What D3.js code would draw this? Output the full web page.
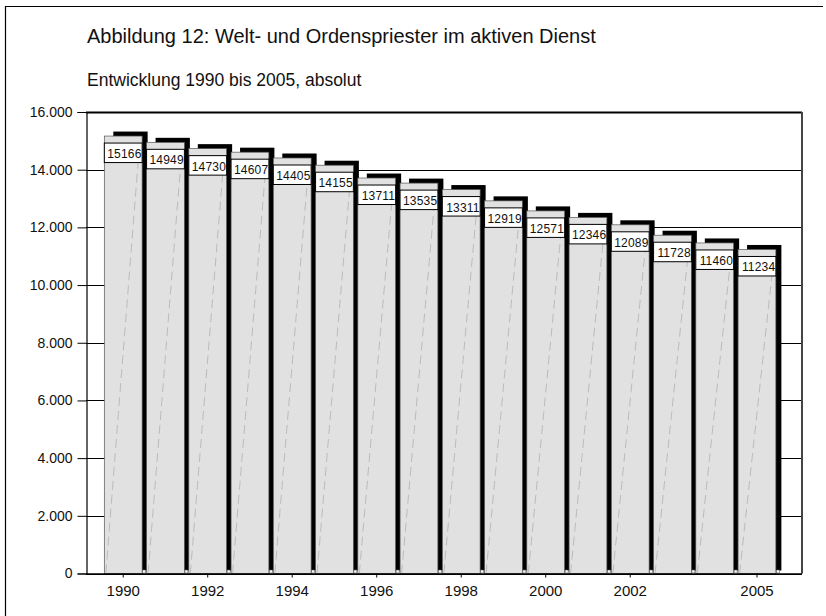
<!DOCTYPE html>
<html>
<head>
<meta charset="utf-8">
<script src="https://cdn.jsdelivr.net/npm/d3@7"></script>
<style>
  body { margin: 0; background: #fff; }
  svg { display: block; font-family: "Liberation Sans", Arial, sans-serif; }
</style>
</head>
<body>
<script>
const svgW = 826;
const svgH = 616;

// Daten
const years = ['1990', '1991', '1992', '1993', '1994', '1995', '1996', '1997',
               '1998', '1999', '2000', '2001', '2002', '2003', '2004', '2005'];
const priests = [15166, 14949, 14730, 14607, 14405, 14155, 13711, 13535,
                 13311, 12919, 12571, 12346, 12089, 11728, 11460, 11234];
const xTickLabels = ['1990', '1992', '1994', '1996', '1998', '2000', '2002', '2005'];
const yTicks = [0, 2000, 4000, 6000, 8000, 10000, 12000, 14000, 16000];

const title = 'Abbildung 12: Welt- und Ordenspriester im aktiven Dienst';
const subtitle = 'Entwicklung 1990 bis 2005, absolut';

const svg = d3.select('body')
              .append('svg')
              .attr('width', svgW)
              .attr('height', svgH);

// Rahmen (nur oben und links sichtbar)
svg.append('path')
   .attr('d', 'M5.5,616 V6.5 H823')
   .attr('fill', 'none')
   .attr('stroke', '#000')
   .attr('stroke-width', 1.2);

svg.append('text')
   .attr('x', 87).attr('y', 43)
   .attr('font-size', 20)
   .attr('fill', '#111')
   .text(title);

svg.append('text')
   .attr('x', 87).attr('y', 86)
   .attr('font-size', 17.5)
   .attr('fill', '#111')
   .text(subtitle);

const plot = { left: 86, right: 802, top: 112, bottom: 573.5 };

const y = d3.scaleLinear()
            .domain([0, 16000])
            .range([plot.bottom, plot.top]);

const pad = 0.105;
const x = d3.scaleBand()
            .domain(years)
            .range([102.1, 778.1])
            .paddingInner(pad)
            .paddingOuter(pad / 2);

// Gitterlinien
svg.append('g')
   .selectAll('line')
   .data(yTicks)
   .join('line')
   .attr('x1', plot.left).attr('x2', plot.right)
   .attr('y1', d => Math.round(y(d)) + 0.5)
   .attr('y2', d => Math.round(y(d)) + 0.5)
   .attr('stroke', '#000')
   .attr('stroke-width', d => d === 16000 ? 2 : 1);

// rechter Rand
svg.append('line')
   .attr('x1', plot.right).attr('x2', plot.right)
   .attr('y1', plot.top).attr('y2', plot.bottom)
   .attr('stroke', '#444')
   .attr('stroke-width', 2);

const bw = x.bandwidth();
const bars = svg.append('g')
                .selectAll('g')
                .data(priests)
                .join('g');

// schwarzer Schatten (3D)
bars.append('rect')
    .attr('x', (d, i) => x(years[i]) + 9)
    .attr('y', d => y(d) - 4.5)
    .attr('width', bw - 3.5)
    .attr('height', d => plot.bottom - 3 - (y(d) - 4.5))
    .attr('fill', '#000');

bars.append('rect')
    .attr('x', (d, i) => x(years[i]) + bw + 0.5)
    .attr('y', plot.bottom - 3.5)
    .attr('width', 3)
    .attr('height', 3)
    .attr('fill', '#fff')
    .attr('stroke', '#555')
    .attr('stroke-width', 0.6);

// Säulen
bars.append('rect')
    .attr('x', (d, i) => x(years[i]))
    .attr('y', d => y(d))
    .attr('width', bw)
    .attr('height', d => plot.bottom - y(d))
    .attr('fill', '#e1e1e1')
    .attr('stroke', '#555')
    .attr('stroke-width', 0.7);

// gestrichelte Diagonale
bars.append('line')
    .attr('x1', (d, i) => x(years[i]) + 1.5)
    .attr('y1', plot.bottom)
    .attr('x2', (d, i) => x(years[i]) + bw - 4)
    .attr('y2', d => y(d) + 26)
    .attr('stroke', '#aaa')
    .attr('stroke-width', 0.7)
    .attr('stroke-dasharray', '9,5');

// Wertebox
bars.append('rect')
    .attr('x', (d, i) => x(years[i]))
    .attr('y', d => y(d) + 7)
    .attr('width', bw)
    .attr('height', 19.5)
    .attr('fill', '#fff')
    .attr('stroke', '#000')
    .attr('stroke-width', 1);

bars.append('text')
    .attr('x', (d, i) => x(years[i]) + bw - 0.5)
    .attr('y', d => y(d) + 22)
    .attr('text-anchor', 'end')
    .attr('font-size', 12)
    .attr('letter-spacing', 0.2)
    .attr('fill', '#111')
    .text(d => d);

// Achsen
const yAxis = d3.axisLeft(y)
                .tickValues(yTicks)
                .tickSize(9)
                .tickPadding(5)
                .tickFormat(d => d === 0 ? '0' : d3.format(',')(d).replace(/,/g, '.'));

svg.append('g')
   .attr('transform', `translate(${plot.left + 0.5}, 0)`)
   .call(yAxis)
   .call(g => g.selectAll('text').attr('font-size', 14).attr('fill', '#111'))
   .call(g => g.selectAll('line').attr('stroke', '#000'))
   .call(g => g.select('.domain').attr('stroke', '#000').attr('stroke-width', 1.2));

const xAxis = d3.axisBottom(x)
                .tickValues(xTickLabels)
                .tickSize(4)
                .tickSizeOuter(0)
                .tickPadding(8);

svg.append('g')
   .attr('transform', `translate(0, ${plot.bottom})`)
   .call(xAxis)
   .call(g => g.select('.domain').attr('d', `M${plot.left},0.5H${plot.right}`).attr('stroke', '#000').attr('stroke-width', 1.5))
   .call(g => g.selectAll('text').attr('font-size', 15).attr('fill', '#111'))
   .call(g => g.selectAll('line').attr('stroke', '#000'));
</script>
</body>
</html>
